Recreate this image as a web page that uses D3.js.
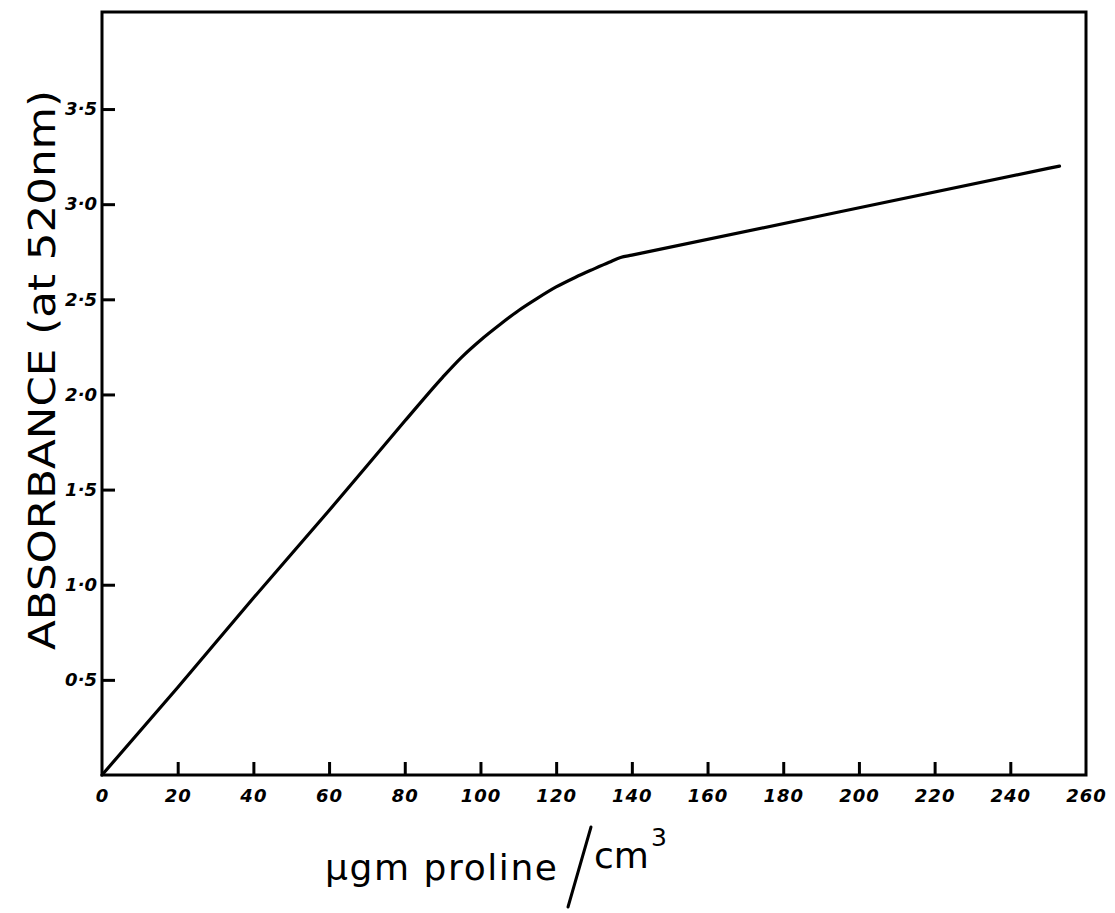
<!DOCTYPE html>
<html>
<head>
<meta charset="utf-8">
<script src="https://cdn.jsdelivr.net/npm/d3@7/dist/d3.min.js"></script>
<style>
  html, body { margin: 0; padding: 0; background: #fff; }
  svg { display: block; }
</style>
</head>
<body>
<svg id="chart" width="1115" height="913"></svg>
<script>
// Proline calibration curve: absorbance at 520 nm vs concentration
const concentration = [0, 20, 40, 60, 80, 90, 95, 100, 105, 110, 115, 120, 125, 130, 134, 137, 140, 250, 253];
const absorbance    = [0, 0.46, 0.93, 1.39, 1.86, 2.09, 2.195, 2.285, 2.365, 2.44, 2.505, 2.565, 2.615, 2.66, 2.695, 2.72, 2.732, 3.188, 3.20];

const xTicks = [0, 20, 40, 60, 80, 100, 120, 140, 160, 180, 200, 220, 240, 260];
const yTicks = [0.5, 1.0, 1.5, 2.0, 2.5, 3.0, 3.5];
const yTickLabels = ["0·5", "1·0", "1·5", "2·0", "2·5", "3·0", "3·5"];

const svg = d3.select("#chart");
const plotLeft = 102, plotRight = 1086, plotTop = 12, plotBottom = 775;

const x = d3.scaleLinear().domain([0, 260]).range([plotLeft, plotRight]);
const y = d3.scaleLinear().domain([0, 4.01]).range([plotBottom, plotTop]);

// frame
svg.append("rect")
  .attr("x", plotLeft).attr("y", plotTop)
  .attr("width", plotRight - plotLeft).attr("height", plotBottom - plotTop)
  .attr("fill", "none").attr("stroke", "#000").attr("stroke-width", 3);

// x axis: ticks pointing into the plot
const xAxis = d3.axisBottom(x).tickValues(xTicks).tickSize(-13).tickPadding(14)
  .tickFormat(d3.format("d"));
const gx = svg.append("g").attr("transform", `translate(0,${plotBottom})`).call(xAxis);
gx.select(".domain").remove();
gx.selectAll(".tick line").attr("stroke", "#000").attr("stroke-width", 3)
  .filter(d => d === 0 || d === 260).remove();
gx.selectAll(".tick text")
  .attr("fill", "#000")
  .style("font-family", "'DejaVu Sans', sans-serif")
  .style("font-size", "18px").style("font-weight", "bold").style("font-style", "italic")
  .style("letter-spacing", "1px");

// y axis: ticks pointing into the plot
const yAxis = d3.axisLeft(y).tickValues(yTicks).tickSize(-13).tickPadding(5)
  .tickFormat((d, i) => yTickLabels[i]);
const gy = svg.append("g").attr("transform", `translate(${plotLeft},0)`).call(yAxis);
gy.select(".domain").remove();
gy.selectAll(".tick line").attr("stroke", "#000").attr("stroke-width", 3);
gy.selectAll(".tick text")
  .attr("fill", "#000")
  .style("font-family", "'DejaVu Sans', sans-serif")
  .style("font-size", "18px").style("font-weight", "bold").style("font-style", "italic");

// calibration curve
const line = d3.line()
  .x((d, i) => x(concentration[i]))
  .y((d, i) => y(absorbance[i]))
  .curve(d3.curveMonotoneX);
svg.append("path")
  .datum(absorbance)
  .attr("d", line)
  .attr("fill", "none").attr("stroke", "#000")
  .attr("stroke-width", 3.2).attr("stroke-linecap", "round").attr("stroke-linejoin", "round");

// y axis title
svg.append("text")
  .attr("transform", "translate(55,370) rotate(-90)")
  .attr("text-anchor", "middle")
  .attr("textLength", 560).attr("lengthAdjust", "spacingAndGlyphs")
  .style("font-family", "'DejaVu Sans', sans-serif")
  .style("font-size", "38px")
  .attr("fill", "#000")
  .text("ABSORBANCE (at 520nm)");

// x axis title: "μgm proline / cm³" with a tall slash
const titleFont = "'DejaVu Sans', sans-serif";
svg.append("text")
  .attr("x", 325).attr("y", 880)
  .attr("textLength", 232).attr("lengthAdjust", "spacing")
  .style("font-family", titleFont).style("font-size", "36px")
  .attr("fill", "#000")
  .text("μgm proline");
svg.append("line")
  .attr("x1", 568).attr("y1", 907).attr("x2", 591).attr("y2", 827)
  .attr("stroke", "#000").attr("stroke-width", 3).attr("stroke-linecap", "round");
const t2 = svg.append("text")
  .attr("x", 594).attr("y", 868)
  .style("font-family", titleFont).style("font-size", "36px")
  .attr("fill", "#000");
t2.append("tspan").text("cm");
t2.append("tspan").attr("dx", 2).attr("dy", -22).style("font-size", "25px").text("3");
</script>
</body>
</html>
